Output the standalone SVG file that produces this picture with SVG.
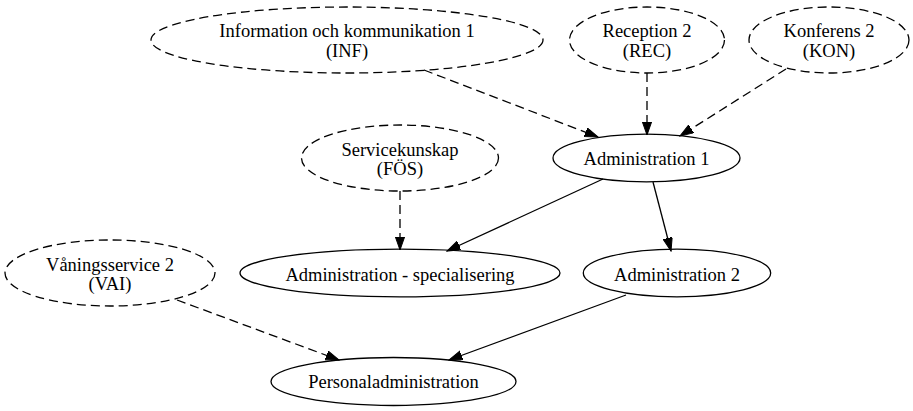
<svg xmlns="http://www.w3.org/2000/svg" width="913" height="411" viewBox="0 0 913 411">
<style>
.n ellipse{fill:none;stroke:#000;stroke-width:1.3}
.d ellipse{stroke-dasharray:9,5}
text{font-family:"Liberation Serif","Times New Roman",serif;font-size:18.5px;text-anchor:middle;fill:#000}
.e line{stroke:#000;stroke-width:1.3}
.e line.dash{stroke-dasharray:9,5}
</style>
<defs>
<marker id="ah" markerUnits="userSpaceOnUse" markerWidth="14" markerHeight="10" refX="13.3" refY="4.7" orient="auto">
<path d="M0,0 L13.3,4.7 L0,9.4 Z" fill="#000" stroke="#000" stroke-width="1"/>
</marker>
</defs>
<rect width="913" height="411" fill="#fff"/>
<g id="edges" class="e">
<line class="dash" x1="424" y1="70" x2="598" y2="137" marker-end="url(#ah)"/>
<line class="dash" x1="647" y1="73" x2="647" y2="135" marker-end="url(#ah)"/>
<line class="dash" x1="786" y1="69" x2="680" y2="136" marker-end="url(#ah)"/>
<line class="dash" x1="400" y1="191" x2="400" y2="250" marker-end="url(#ah)"/>
<line x1="603" y1="179" x2="447" y2="251" marker-end="url(#ah)"/>
<line x1="653" y1="182" x2="671" y2="251" marker-end="url(#ah)"/>
<line class="dash" x1="177" y1="300" x2="339" y2="360" marker-end="url(#ah)"/>
<line x1="626" y1="295" x2="449" y2="360" marker-end="url(#ah)"/>
</g>
<g id="inf" class="n d"><ellipse cx="347" cy="40" rx="196" ry="33"/><text x="347" y="37.3">Information och kommunikation 1</text><text x="347" y="56.7">(INF)</text></g>
<g id="rec" class="n d"><ellipse cx="647" cy="40" rx="77.5" ry="33"/><text x="647" y="37.3">Reception 2</text><text x="647" y="56.7">(REC)</text></g>
<g id="kon" class="n d"><ellipse cx="829" cy="40" rx="80" ry="33"/><text x="829" y="37.3">Konferens 2</text><text x="829" y="56.7">(KON)</text></g>
<g id="fos" class="n d"><ellipse cx="400" cy="158" rx="98.5" ry="33"/><text x="400" y="155.5">Servicekunskap</text><text x="400" y="175">(FÖS)</text></g>
<g id="admin1" class="n"><ellipse cx="646.5" cy="158" rx="93.5" ry="23.8"/><text x="646.5" y="165">Administration 1</text></g>
<g id="vai" class="n d"><ellipse cx="110" cy="273" rx="105" ry="33"/><text x="110" y="270.5">Våningsservice 2</text><text x="110" y="290">(VAI)</text></g>
<g id="adminspec" class="n"><ellipse cx="400" cy="273" rx="160" ry="23.8"/><text x="400" y="280.5">Administration - specialisering</text></g>
<g id="admin2" class="n"><ellipse cx="677" cy="273" rx="93.7" ry="23.8"/><text x="677" y="280.5">Administration 2</text></g>
<g id="personal" class="n"><ellipse cx="393.5" cy="381.5" rx="122.5" ry="24"/><text x="393.5" y="388.2">Personaladministration</text></g>
</svg>
